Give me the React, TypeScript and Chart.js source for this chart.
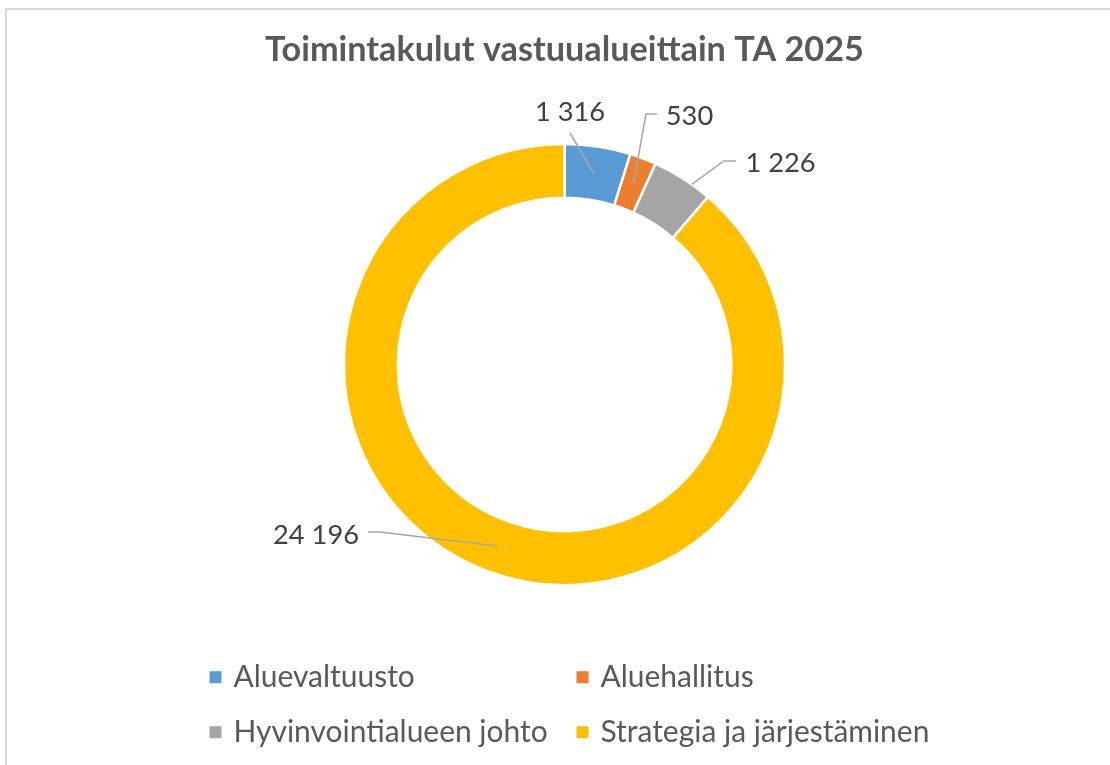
import React, { useEffect, useRef } from "react";
import { Chart, registerables } from "chart.js";

Chart.register(...registerables);

const W = 1110;
const H = 765;

const chartTitle = "Toimintakulut vastuualueittain TA 2025";
const categories = [
  "Aluevaltuusto",
  "Aluehallitus",
  "Hyvinvointialueen johto",
  "Strategia ja järjestäminen",
];
const values = [1316, 530, 1226, 24196];
const valueLabels = ["1 316", "530", "1 226", "24 196"];
const colors = ["#5B9BD5", "#ED7D31", "#A5A5A5", "#FFC000"];

const FONT = "Lato, 'Open Sans', sans-serif";

// Data-label layout: text centre/baseline offset from the donut centre,
// leader-line start/elbow offsets, and where on the slice the leader ends.
const labelLayout = [
  { dx: 5.5, dy: -243.5, path: [[5.5, -231.5]], angleFrac: 0.5, radiusFrac: 0.5 },
  { dx: 125, dy: -239.5, path: [[92.5, -250.5], [81.5, -250.5]], angleFrac: 0.5, radiusFrac: 0.5 },
  { dx: 216, dy: -193, path: [[171.5, -203.5], [159.5, -203.5]], angleFrac: 0.67, radiusFrac: 1.0 },
  { dx: -248.5, dy: 179, path: [[-196.5, 167.5], [-184.5, 167.5]], angleFrac: 0.5, radiusFrac: 0.5 },
];

// Legend grid layout
const legendCols = [209.5, 576.5];
const legendRows = [686.7, 741.7];

function fitFont(text: string, weight: string, target: number) {
  const c = document.createElement("canvas").getContext("2d")!;
  c.font = `${weight} 100px ${FONT}`;
  return (100 * target) / c.measureText(text).width;
}

const overlayPlugin = {
  id: "overlay",
  afterDatasetsDraw(chart: any, _args: any, opts: any) {
    const ctx: CanvasRenderingContext2D = chart.ctx;
    const meta = chart.getDatasetMeta(0);
    const arcs = meta.data;
    if (!arcs.length) return;
    const cx = arcs[0].x;
    const cy = arcs[0].y;

    // data labels with leader lines
    ctx.save();
    labelLayout.forEach((lay, i) => {
      const a: any = arcs[i];
      const ang = a.startAngle + (a.endAngle - a.startAngle) * lay.angleFrac;
      const r = a.innerRadius + (a.outerRadius - a.innerRadius) * lay.radiusFrac;
      const ex = a.x + Math.cos(ang) * r;
      const ey = a.y + Math.sin(ang) * r;
      ctx.beginPath();
      ctx.strokeStyle = "#A6A6A6";
      ctx.lineWidth = 1.5;
      lay.path.forEach((p, k) => {
        if (k === 0) ctx.moveTo(cx + p[0], cy + p[1]);
        else ctx.lineTo(cx + p[0], cy + p[1]);
      });
      ctx.lineTo(ex, ey);
      ctx.stroke();

      ctx.fillStyle = "#404040";
      ctx.font = `normal ${opts.labelSize}px ${FONT}`;
      ctx.textAlign = "center";
      ctx.textBaseline = "alphabetic";
      ctx.fillText(valueLabels[i], cx + lay.dx, cy + lay.dy);
    });

    // legend (2x2 grid)
    const items = chart.data.labels as string[];
    items.forEach((lab, i) => {
      const col = i % 2;
      const row = Math.floor(i / 2);
      const x = legendCols[col];
      const base = legendRows[row];
      ctx.fillStyle = colors[i];
      ctx.fillRect(x, base - 15.5, 12, 12);
      ctx.fillStyle = "#595959";
      ctx.font = `normal ${opts.legendSize}px ${FONT}`;
      ctx.textAlign = "left";
      ctx.textBaseline = "alphabetic";
      ctx.fillText(lab, x + 24, base);
    });
    ctx.restore();
  },
};

export default function App() {
  const ref = useRef<HTMLCanvasElement | null>(null);

  useEffect(() => {
    if (!ref.current) return;
    const titleSize = fitFont(chartTitle, "bold", 599);
    const labelSize = fitFont("24 196", "normal", 86);
    const legendSize = fitFont("Strategia ja järjestäminen", "normal", 329);

    const centerY = 364.5;
    const titleTop = 63 - 0.387 * titleSize - 0.6 * titleSize;
    const chartTop = titleTop + 1.2 * titleSize;
    const bottomPad = H - (2 * centerY - chartTop);

    const chart = new Chart(ref.current, {
      type: "doughnut",
      data: {
        labels: categories,
        datasets: [
          {
            data: values,
            backgroundColor: colors,
            borderColor: "#FFFFFF",
            borderWidth: 2.5,
            hoverOffset: 0,
          },
        ],
      },
      options: {
        responsive: false,
        animation: false,
        events: [],
        radius: 220.5,
        cutout: "75.6%",
        layout: { padding: { left: 19, right: 0, top: titleTop, bottom: bottomPad } },
        plugins: {
          legend: { display: false },
          tooltip: { enabled: false },
          title: {
            display: true,
            text: chartTitle,
            color: "#595959",
            font: { family: FONT, size: titleSize, weight: "bold", lineHeight: 1.2 },
            padding: { top: 0, bottom: 0 },
          },
          overlay: { labelSize, legendSize },
        } as any,
      } as any,
      plugins: [overlayPlugin],
    });
    return () => chart.destroy();
  }, []);

  return (
    <div
      style={{
        position: "fixed",
        left: 0,
        top: 0,
        width: W,
        height: H,
        overflow: "hidden",
        background: "#FFFFFF",
      }}
    >
      <div
        style={{
          position: "absolute",
          left: 5,
          top: 8,
          width: W + 20,
          height: H + 20,
          borderLeft: "2px solid #D9D9D9",
          borderTop: "2px solid #D9D9D9",
        }}
      />
      <canvas
        ref={ref}
        width={W}
        height={H}
        style={{ position: "absolute", left: 0, top: 0, width: W, height: H }}
      />
    </div>
  );
}
